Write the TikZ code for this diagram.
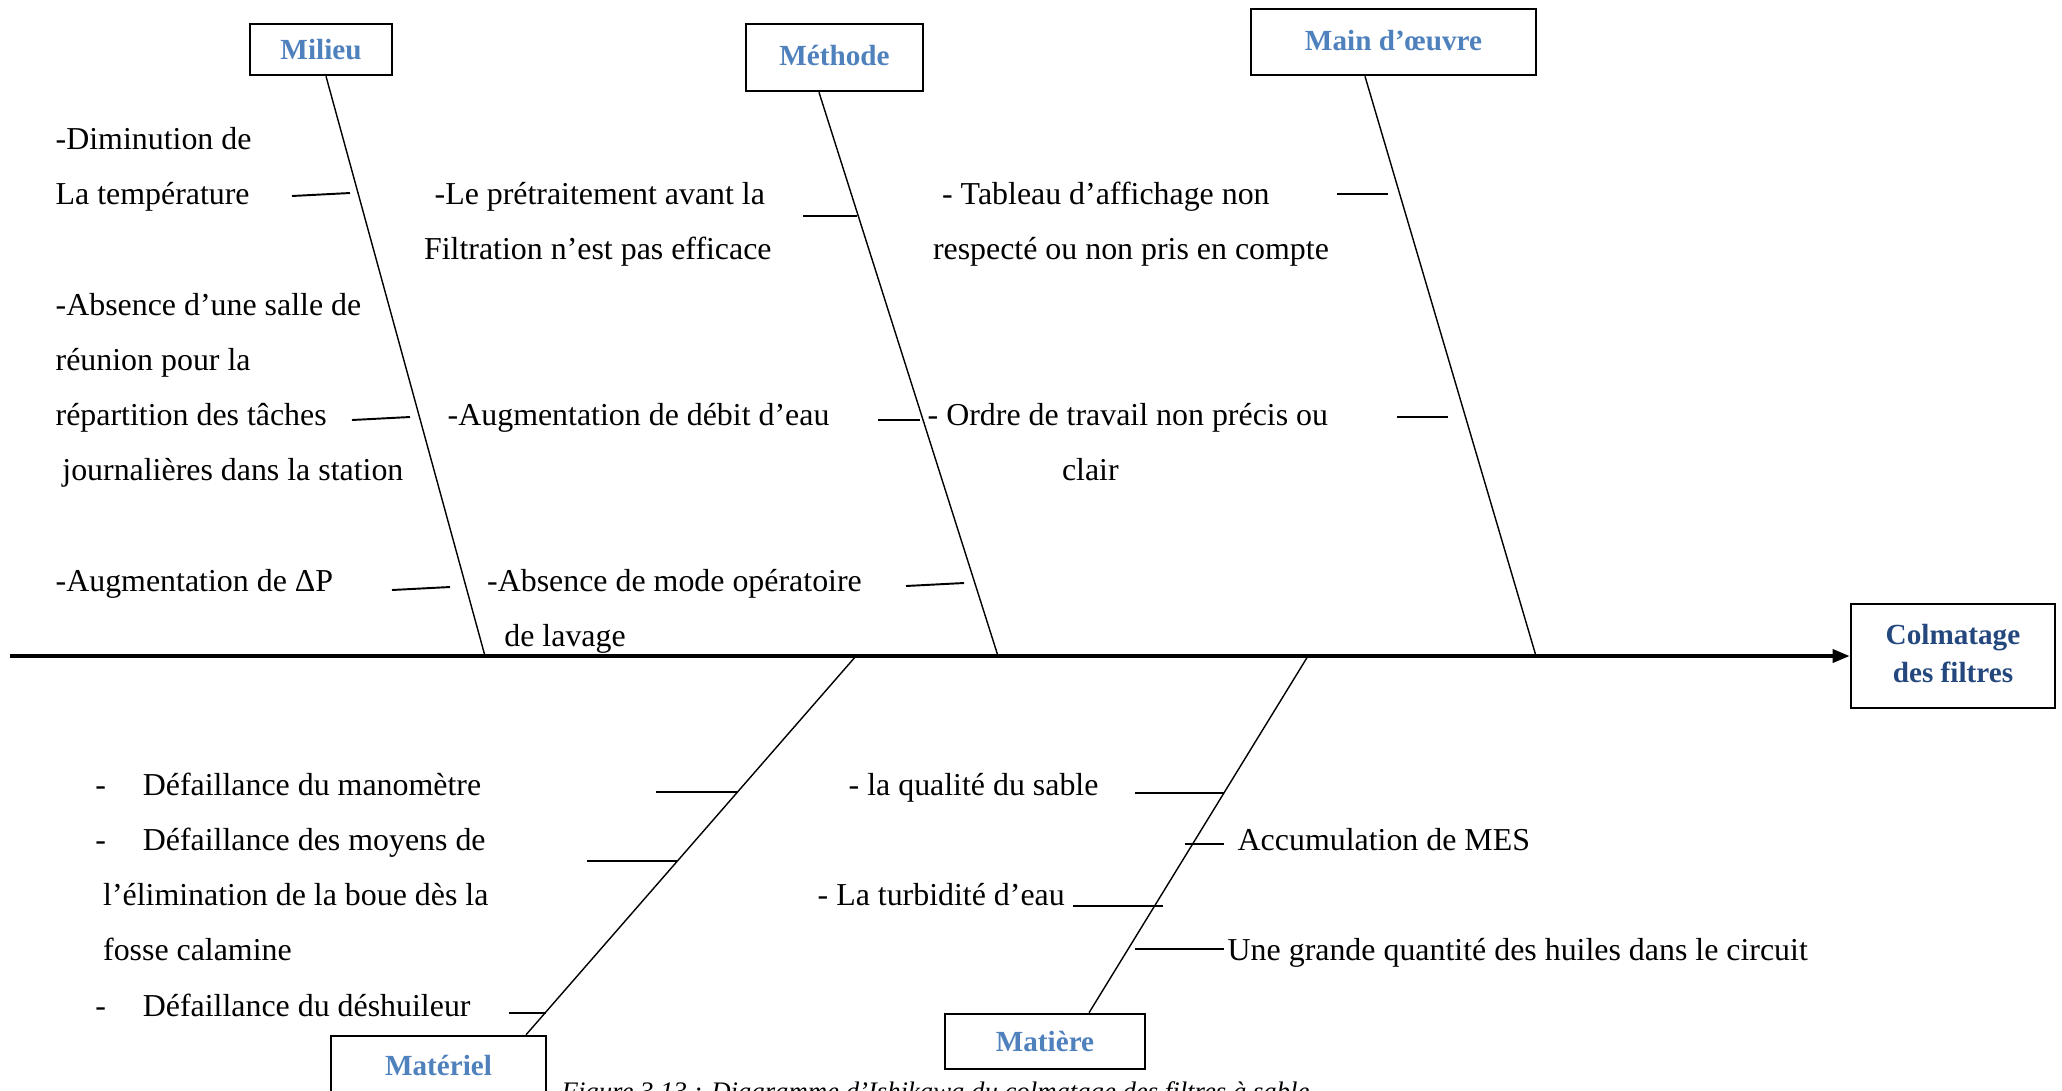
\documentclass[tikz,border=0pt]{standalone}
\usepackage{fontspec}
\setmainfont{Liberation Serif}
\usetikzlibrary{arrows.meta, positioning}
\definecolor{catblue}{RGB}{79,129,189}
\definecolor{effblue}{RGB}{36,72,125}

\begin{document}
\begin{tikzpicture}[x=0.01cm, y=-0.01cm,
  catbox/.style={rectangle, draw=black, line width=0.7pt, text=catblue,
                 font=\fontsize{8.3}{10.8}\selectfont\bfseries, inner sep=0pt},
  effectbox/.style={rectangle, draw=black, line width=0.7pt, text=effblue,
                    font=\fontsize{8.3}{10.8}\selectfont\bfseries, inner sep=0pt,
                    minimum width=2.04cm, minimum height=1.04cm},
  cause/.style={anchor=base west, align=left, inner sep=0pt,
                font=\fontsize{9.07}{15.71}\selectfont},
  spine/.style={-{Triangle[length=0.17cm,width=0.13cm]}, line width=1pt},
  bone/.style={line width=0.4pt},
  tick/.style={line width=0.55pt}
]
  \useasboundingbox (0,0) rectangle (2062,1090);

  % categories and effect
  \node[catbox, minimum width=1.42cm, minimum height=0.51cm] (milieu)     at (321,49.5)   {\raisebox{-0.8pt}{Milieu}};
  \node[catbox, minimum width=1.77cm, minimum height=0.67cm] (methode)    at (834.5,57.5) {\raisebox{1.1pt}{Méthode}};
  \node[catbox, minimum width=2.85cm, minimum height=0.66cm] (mainoeuvre) at (1393.5,42)  {\raisebox{1.1pt}{Main d’œuvre}};
  \node[catbox, minimum width=2.15cm, minimum height=0.58cm] (materiel)   at (438.5,1065) {Matériel};
  \node[catbox, minimum width=2.00cm, minimum height=0.55cm] (matiere)    at (1045,1041.5) {Matière};
  \node[effectbox] (effet) at (1953,656)
    {\raisebox{1.4pt}{\begin{tabular}{@{}c@{}}Colmatage\\des filtres\end{tabular}}};

  % spine
  \coordinate (tail) at (10,656);
  \draw[spine] (tail) -- (effet.west);

  % bones
  \coordinate (jmil)     at (485,656);
  \coordinate (jmet)     at (998,656);
  \coordinate (jmain)    at (1536,656);
  \coordinate (jmat)     at (856,656);
  \coordinate (jmatiere) at (1308,656);
  \draw[bone] ([xshift=0.05cm]milieu.south)      -- (jmil);
  \draw[bone] ([xshift=-0.155cm]methode.south)   -- (jmet);
  \draw[bone] ([xshift=-0.285cm]mainoeuvre.south) -- (jmain);
  \draw[bone] (jmat)     -- ([xshift=0.875cm]materiel.north);
  \draw[bone] (jmatiere) -- ([xshift=0.44cm]matiere.north);

  % small ticks
  \foreach \n/\xa/\ya/\xb/\yb in {tmil1/292/196/350/193, tmil2/352/420/410/417, tmil3/392/590/450/587,
      tmet1/803/216/857/216, tmet2/878/420/920/420, tmet3/906/586/964/583,
      tmain1/1337/194/1388/194, tmain2/1397/417/1448/417,
      tmat1/656/792/737/792, tmat2/587/861/677/861, tmat3/509/1013/546/1013,
      tmq1/1135/793/1224/793, tmq2/1185/844/1224/844, tmq3/1073/906/1163/906, tmq4/1135/949/1224/949}
  {
    \coordinate (\n-a) at (\xa,\ya);
    \coordinate (\n-b) at (\xb,\yb);
    \draw[tick] (\n-a) -- (\n-b);
  }

  % causes (placed by the baseline of their last line)
  \node[cause] (cmil1) at (55,204.6) {-Diminution de\\La température};
  \node[cause] (cmil2) at (55,480.8) {-Absence d’une salle de\\réunion pour la\\répartition des tâches\\\hspace*{1.9pt}journalières dans la station};
  \node[cause] (cmil3) at (55,591.2) {-Augmentation de ΔP};

  \node[cause] (cmet1) at (423.4,259.8) {\hspace*{3pt}-Le prétraitement avant la\\Filtration n’est pas efficace};
  \node[cause] (cmet2) at (447,425.5)   {-Augmentation de débit d’eau};
  \node[cause] (cmet3) at (486.5,646.4) {-Absence de mode opératoire\\\hspace*{4.9pt}de lavage};

  \node[cause] (cmain1) at (932.3,259.8) {\hspace*{2.6pt}- Tableau d’affichage non\\respecté ou non pris en compte};
  \node[cause] (cmain2) at (927,480.7)   {- Ordre de travail non précis ou\\\hspace*{38.2pt}clair};

  \node[cause] (cmat) at (94.7,1016) {\makebox[13.5pt][l]{-}Défaillance du manomètre\\
    \makebox[13.5pt][l]{-}Défaillance des moyens de\\
    \hspace*{2.2pt}l’élimination de la boue dès la\\
    \hspace*{2.2pt}fosse calamine\\
    \makebox[13.5pt][l]{-}Défaillance du déshuileur};

  \node[cause] (cmq1) at (848,795.1)  {- la qualité du sable};
  \node[cause] (cmq2) at (1237,850.3) {Accumulation de MES};
  \node[cause] (cmq3) at (817,905.5)  {- La turbidité d’eau};
  \node[cause] (cmq4) at (1227,960.7) {Une grande quantité des huiles dans le circuit};

  % caption, cut by the page edge
  \node[anchor=base west, inner sep=0pt, font=\fontsize{7.6}{9}\selectfont\itshape] (legende)
    at (561,1100) {Figure 3.13 : Diagramme d’Ishikawa du colmatage des filtres à sable};
\end{tikzpicture}
\end{document}
